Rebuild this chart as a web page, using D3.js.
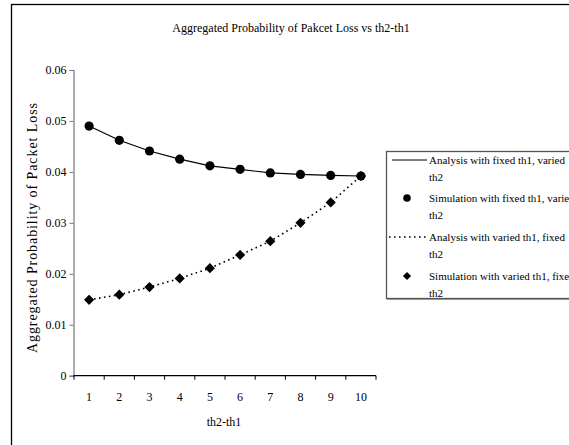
<!DOCTYPE html>
<html>
<head>
<meta charset="utf-8">
<script src="https://cdn.jsdelivr.net/npm/d3@7/dist/d3.min.js"></script>
<style>
  html, body { margin: 0; padding: 0; background: #fff; }
  svg { display: block; font-family: "Liberation Serif", "Times New Roman", serif; }
</style>
</head>
<body>
<svg id="chart" width="569" height="445"></svg>
<script>
// th2-th1 categories
const categories = [1, 2, 3, 4, 5, 6, 7, 8, 9, 10];

// Fixed th1, varied th2
const analysisFixedTh1   = [0.0490, 0.0462, 0.0441, 0.0425, 0.0412, 0.0405, 0.0398, 0.0395, 0.0393, 0.0392];
const simulationFixedTh1 = [0.0490, 0.0462, 0.0441, 0.0425, 0.0412, 0.0405, 0.0398, 0.0395, 0.0393, 0.0392];

// Varied th1, fixed th2
const analysisVariedTh1   = [0.0149, 0.0159, 0.0174, 0.0191, 0.0211, 0.0237, 0.0264, 0.0300, 0.0340, 0.0392];
const simulationVariedTh1 = [0.0149, 0.0159, 0.0174, 0.0191, 0.0211, 0.0237, 0.0264, 0.0300, 0.0340, 0.0392];

const yTicks = [0, 0.01, 0.02, 0.03, 0.04, 0.05, 0.06];

const legendLabels = [
  ["Analysis with fixed th1, varied", "th2"],
  ["Simulation with fixed th1, varied", "th2"],
  ["Analysis with varied th1, fixed", "th2"],
  ["Simulation with varied th1, fixed", "th2"]
];

const svg = d3.select("#chart");

// outer chart frame (continues past the right and bottom edges)
svg.append("rect")
  .attr("x", 11.5).attr("y", 4.5)
  .attr("width", 600).attr("height", 460)
  .attr("fill", "#fff").attr("stroke", "#000").attr("stroke-width", 1.3);

const plot = { left: 74, right: 376, top: 70, bottom: 375.7 };

const x = d3.scaleBand().domain(categories).range([plot.left, plot.right]).paddingInner(0).paddingOuter(0);
const cx = d => x(d) + x.bandwidth() / 2;
const y = d3.scaleLinear().domain([0, 0.06]).range([plot.bottom, plot.top]);

// title
svg.append("text")
  .attr("x", 291).attr("y", 32)
  .attr("text-anchor", "middle")
  .attr("font-size", 12)
  .text("Aggregated Probability of Pakcet Loss vs th2-th1");

// y axis
const yAxis = svg.append("g")
  .attr("transform", `translate(${plot.left - 0.5},0)`)
  .call(d3.axisLeft(y).tickValues(yTicks).tickSize(4).tickPadding(3)
    .tickFormat(d => d === 0 ? "0" : d3.format(".2f")(d)));
yAxis.select(".domain").attr("stroke", "#777").attr("stroke-width", 1.2);
yAxis.selectAll(".tick line").attr("stroke", "#777");
yAxis.selectAll("text").attr("font-family", "Liberation Serif").attr("font-size", 12).attr("fill", "#000");

// x axis: ticks sit on band boundaries, labels centred in bands
const boundaries = d3.range(categories.length + 1).map(i => plot.left + i * x.bandwidth());
const xAxisG = svg.append("g");
xAxisG.append("line")
  .attr("x1", plot.left - 0.5).attr("x2", plot.right)
  .attr("y1", plot.bottom).attr("y2", plot.bottom)
  .attr("stroke", "#000").attr("stroke-width", 1.2);
xAxisG.selectAll("line.tick").data(boundaries).join("line")
  .attr("class", "tick")
  .attr("x1", d => d).attr("x2", d => d)
  .attr("y1", plot.bottom).attr("y2", plot.bottom + 4)
  .attr("stroke", "#000");
xAxisG.selectAll("text").data(categories).join("text")
  .attr("x", d => cx(d)).attr("y", 401)
  .attr("text-anchor", "middle")
  .attr("font-size", 12)
  .text(d => d);

// axis titles
svg.append("text")
  .attr("x", 224).attr("y", 426)
  .attr("text-anchor", "middle")
  .attr("font-size", 12)
  .text("th2-th1");
svg.append("text")
  .attr("transform", "translate(37,228) rotate(-90)")
  .attr("text-anchor", "middle")
  .attr("font-size", 14)
  .attr("textLength", 250)
  .attr("lengthAdjust", "spacing")
  .text("Aggregated Probability of Packet Loss");

// series
const line = d3.line().x((d, i) => cx(categories[i])).y(d => y(d));

svg.append("path").datum(analysisFixedTh1)
  .attr("d", line).attr("fill", "none").attr("stroke", "#000").attr("stroke-width", 1.2);
svg.append("path").datum(analysisVariedTh1)
  .attr("d", line).attr("fill", "none").attr("stroke", "#000").attr("stroke-width", 1.6)
  .attr("stroke-dasharray", "1.6,3.4");

// diamond marker: a square turned by 45 degrees
const diamond = d3.symbol().type(d3.symbolSquare).size(52);

svg.append("g").selectAll("circle").data(simulationFixedTh1).join("circle")
  .attr("cx", (d, i) => cx(categories[i])).attr("cy", d => y(d))
  .attr("r", 4.6).attr("fill", "#000");
svg.append("g").selectAll("path").data(simulationVariedTh1).join("path")
  .attr("d", diamond)
  .attr("transform", (d, i) => `translate(${cx(categories[i])},${y(d)}) rotate(45)`)
  .attr("fill", "#000");

// legend
const lg = svg.append("g");
lg.append("rect")
  .attr("x", 386.5).attr("y", 151.5).attr("width", 200).attr("height", 147)
  .attr("fill", "#fff").attr("stroke", "#555").attr("stroke-width", 1.3);
lg.append("line")
  .attr("x1", 387).attr("x2", 600).attr("y1", 299.5).attr("y2", 299.5)
  .attr("stroke", "#999").attr("stroke-width", 1);

const rowY = [160, 198, 237, 276];
const rows = lg.selectAll("g.row").data(legendLabels).join("g").attr("class", "row");
rows.each(function(lbl, i) {
  const g = d3.select(this);
  const yy = rowY[i];
  if (i === 0) {
    g.append("line").attr("x1", 392).attr("x2", 427).attr("y1", yy).attr("y2", yy)
      .attr("stroke", "#000").attr("stroke-width", 1.2);
  } else if (i === 1) {
    g.append("circle").attr("cx", 407).attr("cy", yy).attr("r", 3.8).attr("fill", "#000");
  } else if (i === 2) {
    g.append("line").attr("x1", 389).attr("x2", 426).attr("y1", yy).attr("y2", yy)
      .attr("stroke", "#000").attr("stroke-width", 1.6).attr("stroke-dasharray", "1.6,3.4");
  } else {
    g.append("path").attr("d", d3.symbol().type(d3.symbolSquare).size(34))
      .attr("transform", `translate(407,${yy}) rotate(45)`).attr("fill", "#000");
  }
  g.append("text").attr("x", 429).attr("y", yy + 4)
    .attr("font-size", 11).text(lbl[0]);
  g.append("text").attr("x", 429).attr("y", yy + 20.5)
    .attr("font-size", 11).text(lbl[1]);
});
</script>
</body>
</html>
